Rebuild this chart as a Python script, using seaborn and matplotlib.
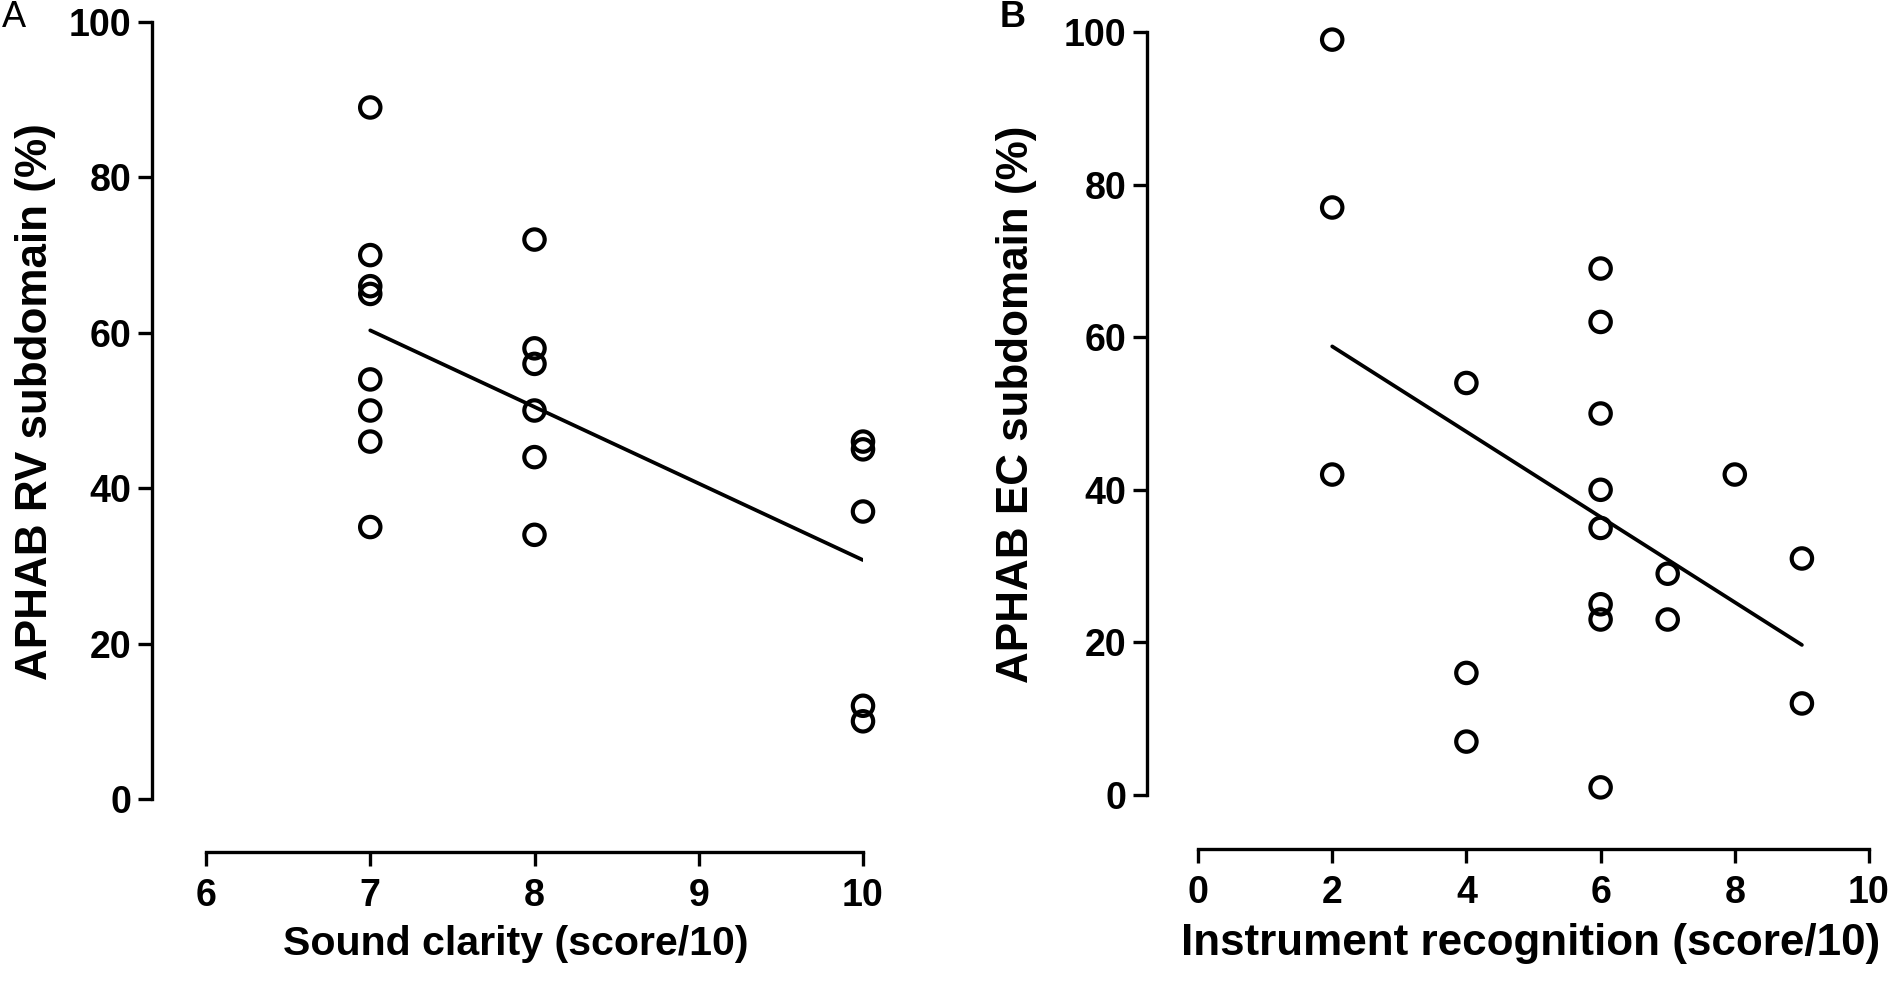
import matplotlib
matplotlib.use("Agg")
import matplotlib.pyplot as plt
import pandas as pd
import seaborn as sns


# ======================================================
# 1. DATA
# ======================================================
# panel A: sound clarity vs APHAB RV
clarity_x = [7, 7, 7, 7, 7, 7, 7, 7,
             8, 8, 8, 8, 8, 8,
             10, 10, 10, 10, 10]
clarity_rv = [89, 70, 66, 65, 54, 50, 46, 35,
              72, 58, 56, 50, 44, 34,
              46, 45, 37, 12, 10]

# panel B: instrument recognition vs APHAB EC
instrument_x = [2, 2, 2, 4, 4, 4,
                6, 6, 6, 6, 6, 6, 6, 6,
                7, 7, 8, 9, 9]
instrument_ec = [99, 77, 42, 54, 16, 7,
                 69, 62, 50, 40, 35, 25, 23, 1,
                 29, 23, 42, 31, 12]

a_xticks = [6, 7, 8, 9, 10]
b_xticks = [0, 2, 4, 6, 8, 10]
y_ticks = [0, 20, 40, 60, 80, 100]


# ======================================================
# 2. STYLE
# ======================================================
sns.set_style("ticks")
plt.rcParams["font.family"] = ["Liberation Sans", "DejaVu Sans"]
plt.rcParams["text.color"] = "black"
plt.rcParams["axes.labelcolor"] = "black"

W, H = 1893, 1007


def px_rect(left, top, right, bottom):
    """pixel box -> figure fraction [l, b, w, h]"""
    return [left / W, 1 - bottom / H, (right - left) / W, (bottom - top) / H]


def style_axes(ax, out_left, out_bottom):
    sns.despine(ax=ax)
    ax.spines["left"].set_position(("outward", out_left * 0.72))
    ax.spines["bottom"].set_position(("outward", out_bottom * 0.72))
    for s in ("left", "bottom"):
        ax.spines[s].set_linewidth(2.4)
        ax.spines[s].set_color("black")
    ax.tick_params(axis="both", length=10, width=2.4, color="black",
                   labelsize=27, labelcolor="black")
    ax.tick_params(axis="y", pad=5)
    ax.tick_params(axis="x", pad=9)
    for lab in ax.get_xticklabels() + ax.get_yticklabels():
        lab.set_fontweight("bold")


# ======================================================
# 3. PANEL
# ======================================================
def draw_panel(ax, x, y, xlabel, ylabel, xticks, xlim, xlabel_size):
    df = pd.DataFrame({"x": x, "y": y})

    sns.scatterplot(data=df, x="x", y="y", ax=ax, s=215,
                    facecolor="none", edgecolor="black", linewidth=3.0,
                    clip_on=False, zorder=3)
    sns.regplot(data=df, x="x", y="y", ax=ax, scatter=False, ci=None,
                truncate=True, color="black", line_kws={"linewidth": 2.7})

    ax.set_xlim(*xlim)
    ax.set_ylim(0, 100)
    ax.set_xticks(xticks)
    ax.set_yticks(y_ticks)
    ax.set_xlabel(xlabel, fontsize=xlabel_size, fontweight="bold")
    ax.set_ylabel(ylabel, fontsize=31.7, fontweight="bold")
    ax.xaxis.label.set_va("center")
    ax.yaxis.label.set_va("center")


# ======================================================
# 4. MAIN
# ======================================================
def main():
    fig = plt.figure(figsize=(W / 100, H / 100), dpi=100)

    ax_a = fig.add_axes(px_rect(206, 22, 863, 799))
    draw_panel(ax_a, clarity_x, clarity_rv,
               "Sound clarity (score/10)", "APHAB RV subdomain (%)",
               a_xticks, (6, 10), 29.6)
    style_axes(ax_a, 54, 53)
    ax_a.xaxis.set_label_coords(0.472, -0.186)
    ax_a.yaxis.set_label_coords(-0.259, 0.512)

    ax_b = fig.add_axes(px_rect(1198, 32, 1869, 795))
    draw_panel(ax_b, instrument_x, instrument_ec,
               "Instrument recognition (score/10)", "APHAB EC subdomain (%)",
               b_xticks, (0, 10), 31.7)
    style_axes(ax_b, 51, 54)
    ax_b.xaxis.set_label_coords(0.495, -0.195)
    ax_b.yaxis.set_label_coords(-0.271, 0.512)

    fig.text(2 / W, 1 - 0 / H, "A", fontsize=26, ha="left", va="top")
    fig.text(1000 / W, 1 - 0 / H, "B", fontsize=26, fontweight="bold",
             ha="left", va="top")

    fig.savefig("out.png", dpi=100, facecolor="white")


if __name__ == "__main__":
    main()
